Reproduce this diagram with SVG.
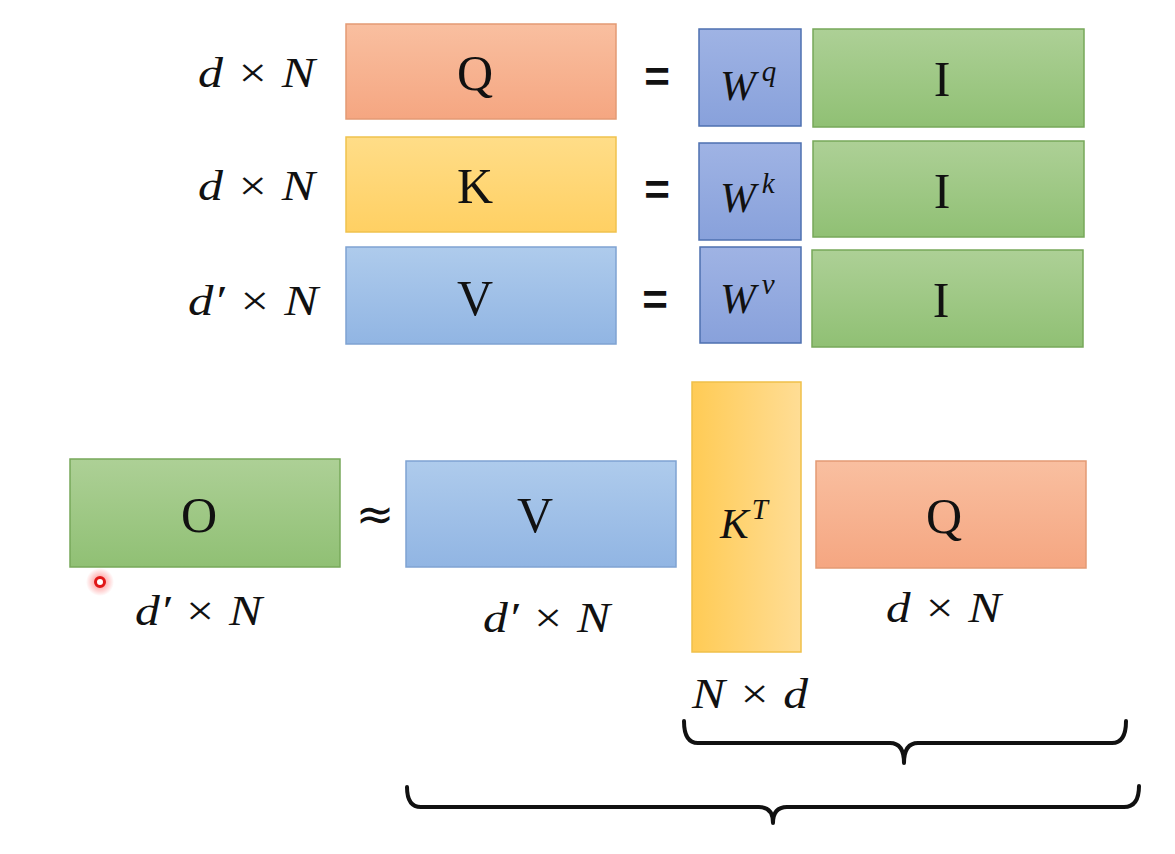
<svg xmlns="http://www.w3.org/2000/svg" width="1175" height="854" viewBox="0 0 1175 854">
<defs>
<linearGradient id="gq" x1="0" y1="0" x2="0" y2="1"><stop offset="0" stop-color="#F9BFA0"/><stop offset="1" stop-color="#F5A681"/></linearGradient>
<linearGradient id="gk" x1="0" y1="0" x2="0" y2="1"><stop offset="0" stop-color="#FFDD88"/><stop offset="1" stop-color="#FFD063"/></linearGradient>
<linearGradient id="gv" x1="0" y1="0" x2="0" y2="1"><stop offset="0" stop-color="#AECBEC"/><stop offset="1" stop-color="#91B5E3"/></linearGradient>
<linearGradient id="gw" x1="0" y1="0" x2="0" y2="1"><stop offset="0" stop-color="#9FB3E4"/><stop offset="1" stop-color="#88A1DB"/></linearGradient>
<linearGradient id="gi" x1="0" y1="0" x2="0" y2="1"><stop offset="0" stop-color="#ADD096"/><stop offset="1" stop-color="#90C074"/></linearGradient>
<linearGradient id="gkt" x1="0" y1="0" x2="1" y2="0"><stop offset="0" stop-color="#FFCB55"/><stop offset="1" stop-color="#FFDD95"/></linearGradient>
<radialGradient id="glow"><stop offset="0" stop-color="#FF3030" stop-opacity="0.6"/><stop offset="1" stop-color="#FF3030" stop-opacity="0"/></radialGradient>
</defs>
<style>
.q{fill:url(#gq);stroke:#E39A74;stroke-width:1.5}
.k{fill:url(#gk);stroke:#F0C24E;stroke-width:1.5}
.v{fill:url(#gv);stroke:#7FA3D2;stroke-width:1.5}
.w{fill:url(#gw);stroke:#4E70B0;stroke-width:1.5}
.i{fill:url(#gi);stroke:#77A85A;stroke-width:1.5}
.kt{fill:url(#gkt);stroke:#F0C04A;stroke-width:1.5}
.big{font-family:"Liberation Serif","DejaVu Serif",serif;font-size:50px;fill:#111;text-anchor:middle}
.m{font-family:"Liberation Serif","DejaVu Serif",serif;font-style:italic;font-size:43px;fill:#111}
.sup{font-size:29px}
.eq{font-family:"Liberation Sans",Arial,sans-serif;font-weight:bold;font-size:44px;fill:#111;text-anchor:middle}
.approx{font-family:"DejaVu Sans",sans-serif;font-size:46px;fill:#111;text-anchor:middle}
.brace{fill:none;stroke:#111;stroke-width:4;stroke-linecap:round;stroke-linejoin:round}
</style>
<rect width="1175" height="854" fill="#FFFFFF"/>

<g id="row-q">
<text class="m" x="198" y="87" textLength="117" lengthAdjust="spacingAndGlyphs">d × N</text>
<rect class="q" x="346" y="24" width="270" height="95"/>
<text class="big" x="475" y="90">Q</text>
<text class="eq" x="657" y="92">=</text>
<rect class="w" x="699" y="29" width="102" height="97"/>
<text class="m" x="720" y="100">W<tspan class="sup" dx="6" dy="-19">q</tspan></text>
<rect class="i" x="813" y="29" width="271" height="98"/>
<text class="big" x="942" y="96">I</text>
</g>

<g id="row-k">
<text class="m" x="198" y="200" textLength="117" lengthAdjust="spacingAndGlyphs">d × N</text>
<rect class="k" x="346" y="137" width="270" height="95"/>
<text class="big" x="475" y="203">K</text>
<text class="eq" x="657" y="205">=</text>
<rect class="w" x="699" y="143" width="102" height="97"/>
<text class="m" x="720" y="212">W<tspan class="sup" dx="6" dy="-19">k</tspan></text>
<rect class="i" x="813" y="141" width="271" height="96"/>
<text class="big" x="942" y="208">I</text>
</g>

<g id="row-v">
<text class="m" x="188" y="315" textLength="130" lengthAdjust="spacingAndGlyphs">d′ × N</text>
<rect class="v" x="346" y="247" width="270" height="97"/>
<text class="big" x="475" y="315">V</text>
<text class="eq" x="655" y="315">=</text>
<rect class="w" x="700" y="247" width="101" height="96"/>
<text class="m" x="720" y="313">W<tspan class="sup" dx="6" dy="-19">v</tspan></text>
<rect class="i" x="812" y="250" width="271" height="97"/>
<text class="big" x="941" y="317">I</text>
</g>

<g id="node-o">
<rect class="i" x="70" y="459" width="270" height="108"/>
<text class="big" x="199" y="532">O</text>
<text class="m" x="135" y="625" textLength="127" lengthAdjust="spacingAndGlyphs">d′ × N</text>
</g>

<text class="approx" x="375" y="530">≈</text>

<g id="node-v2">
<rect class="v" x="406" y="461" width="270" height="106"/>
<text class="big" x="535" y="532">V</text>
<text class="m" x="483" y="632" textLength="127" lengthAdjust="spacingAndGlyphs">d′ × N</text>
</g>

<g id="node-kt">
<rect class="kt" x="692" y="382" width="109" height="270"/>
<text class="m" x="720" y="538">K<tspan class="sup" dx="3" dy="-19">T</tspan></text>
<text class="m" x="692" y="708" textLength="116" lengthAdjust="spacingAndGlyphs">N × d</text>
</g>

<g id="node-q2">
<rect class="q" x="816" y="461" width="270" height="107"/>
<text class="big" x="944" y="533">Q</text>
<text class="m" x="886" y="622" textLength="115" lengthAdjust="spacingAndGlyphs">d × N</text>
</g>

<g id="connectors">
<path class="brace" d="M684,721 Q684,743 698,743 L890,743 Q904,743 904,763 Q904,743 918,743 L1112,743 Q1126,743 1126,721"/>
<path class="brace" d="M407,787 Q407,807 421,807 L759,807 Q773,807 773,823 Q773,807 787,807 L1124,807 Q1139,807 1139,786"/>
</g>

<g id="pointer">
<circle cx="100" cy="582" r="14" fill="url(#glow)"/>
<circle cx="100" cy="582" r="4.5" fill="#FFFFFF" stroke="#E01818" stroke-width="3"/>
</g>
</svg>
